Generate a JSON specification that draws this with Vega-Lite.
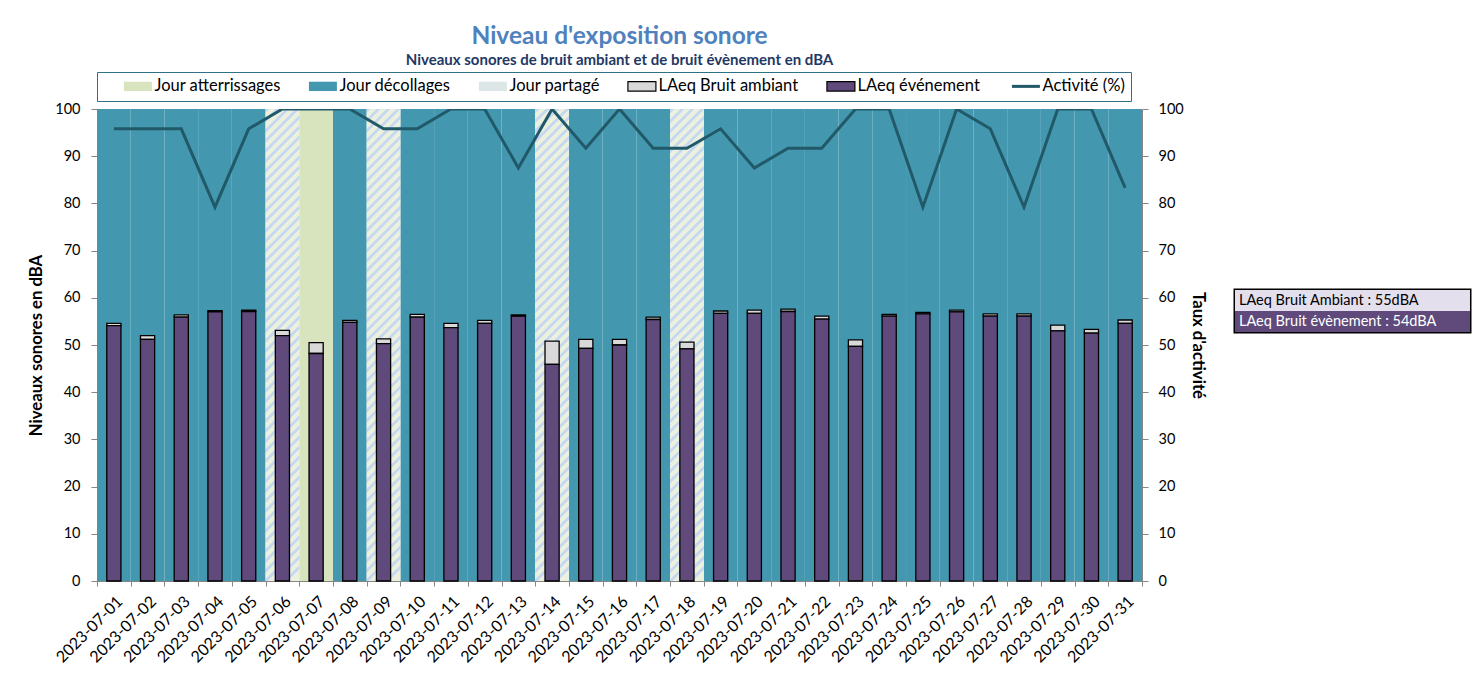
{
  "$schema": "https://vega.github.io/schema/vega-lite/v6.json",
  "width": 1045,
  "height": 472,
  "autosize": {"type": "none"},
  "padding": {"left": 97, "top": 109, "right": 339, "bottom": 96},
  "background": "white",
  "title": {
    "text": "Niveau d'exposition sonore",
    "subtitle": "Niveaux sonores de bruit ambiant et de bruit évènement en dBA",
    "anchor": "middle",
    "frame": "group",
    "font": "Lato",
    "fontSize": 24.5,
    "fontWeight": "bold",
    "color": "#4F81BD",
    "subtitleFont": "Lato",
    "subtitleFontSize": 15,
    "subtitleFontWeight": "bold",
    "subtitleColor": "#1F3864",
    "subtitlePadding": 3,
    "offset": 3
  },
  "config": {
    "font": "Lato",
    "view": {"stroke": null},
    "axis": {
      "grid": false,
      "labelFont": "Lato",
      "titleFont": "Lato",
      "domainColor": "#868686",
      "tickColor": "#868686",
      "tickSize": 6,
      "labelColor": "black",
      "titleColor": "black",
      "labelFontSize": 14.5,
      "titleFontSize": 16.7,
      "titleFontWeight": "bold"
    }
  },
  "data": {
    "values": [
      {"date": "2023-07-01", "jour": "Jour décollages", "activite": 95.8, "ambiant": 54.6, "evenement": 54.1},
      {"date": "2023-07-02", "jour": "Jour décollages", "activite": 95.8, "ambiant": 52.0, "evenement": 51.2},
      {"date": "2023-07-03", "jour": "Jour décollages", "activite": 95.8, "ambiant": 56.4, "evenement": 55.9},
      {"date": "2023-07-04", "jour": "Jour décollages", "activite": 79.2, "ambiant": 57.3, "evenement": 57.0},
      {"date": "2023-07-05", "jour": "Jour décollages", "activite": 95.8, "ambiant": 57.4, "evenement": 57.1},
      {"date": "2023-07-06", "jour": "Jour partagé", "activite": 100, "ambiant": 53.1, "evenement": 52.0},
      {"date": "2023-07-07", "jour": "Jour atterrissages", "activite": 100, "ambiant": 50.5, "evenement": 48.2},
      {"date": "2023-07-08", "jour": "Jour décollages", "activite": 100, "ambiant": 55.2, "evenement": 54.8},
      {"date": "2023-07-09", "jour": "Jour partagé", "activite": 95.8, "ambiant": 51.3, "evenement": 50.3},
      {"date": "2023-07-10", "jour": "Jour décollages", "activite": 95.8, "ambiant": 56.5, "evenement": 55.9},
      {"date": "2023-07-11", "jour": "Jour décollages", "activite": 100, "ambiant": 54.6, "evenement": 53.7},
      {"date": "2023-07-12", "jour": "Jour décollages", "activite": 100, "ambiant": 55.2, "evenement": 54.6},
      {"date": "2023-07-13", "jour": "Jour décollages", "activite": 87.5, "ambiant": 56.4, "evenement": 56.1},
      {"date": "2023-07-14", "jour": "Jour partagé", "activite": 100, "ambiant": 50.8, "evenement": 45.9},
      {"date": "2023-07-15", "jour": "Jour décollages", "activite": 91.7, "ambiant": 51.2, "evenement": 49.3},
      {"date": "2023-07-16", "jour": "Jour décollages", "activite": 100, "ambiant": 51.2, "evenement": 50.0},
      {"date": "2023-07-17", "jour": "Jour décollages", "activite": 91.7, "ambiant": 55.9, "evenement": 55.4},
      {"date": "2023-07-18", "jour": "Jour partagé", "activite": 91.7, "ambiant": 50.6, "evenement": 49.2},
      {"date": "2023-07-19", "jour": "Jour décollages", "activite": 95.8, "ambiant": 57.2, "evenement": 56.7},
      {"date": "2023-07-20", "jour": "Jour décollages", "activite": 87.5, "ambiant": 57.4, "evenement": 56.7},
      {"date": "2023-07-21", "jour": "Jour décollages", "activite": 91.7, "ambiant": 57.6, "evenement": 57.1},
      {"date": "2023-07-22", "jour": "Jour décollages", "activite": 91.7, "ambiant": 56.1, "evenement": 55.5},
      {"date": "2023-07-23", "jour": "Jour décollages", "activite": 100, "ambiant": 51.1, "evenement": 49.7},
      {"date": "2023-07-24", "jour": "Jour décollages", "activite": 100, "ambiant": 56.5, "evenement": 56.1},
      {"date": "2023-07-25", "jour": "Jour décollages", "activite": 79.2, "ambiant": 56.9, "evenement": 56.6},
      {"date": "2023-07-26", "jour": "Jour décollages", "activite": 100, "ambiant": 57.4, "evenement": 57.0},
      {"date": "2023-07-27", "jour": "Jour décollages", "activite": 95.8, "ambiant": 56.6, "evenement": 56.1},
      {"date": "2023-07-28", "jour": "Jour décollages", "activite": 79.2, "ambiant": 56.6, "evenement": 56.1},
      {"date": "2023-07-29", "jour": "Jour décollages", "activite": 100, "ambiant": 54.2, "evenement": 53.0},
      {"date": "2023-07-30", "jour": "Jour décollages", "activite": 100, "ambiant": 53.3, "evenement": 52.5},
      {"date": "2023-07-31", "jour": "Jour décollages", "activite": 83.3, "ambiant": 55.3, "evenement": 54.6}
    ]
  },
  "layer": [
    {
      "encoding": {
        "x": {
          "field": "date",
          "type": "ordinal",
          "scale": {"paddingInner": 0, "paddingOuter": 0},
          "axis": {"title": null, "labelAngle": -45, "tickBand": "extent", "labelFontSize": 16, "labelPadding": 7, "tickSize": 5}
        }
      },
      "layer": [
        {
          "transform": [{"filter": "datum.jour === 'Jour décollages'"}],
          "mark": {"type": "bar", "fill": "#4398B0", "stroke": null},
          "encoding": {
            "y": {"datum": 100, "type": "quantitative", "scale": {"domain": [0, 100], "nice": false}, "axis": {"title": "Niveaux sonores en dBA"}}
          }
        },
        {
          "transform": [{"filter": "datum.jour === 'Jour atterrissages'"}],
          "mark": {"type": "bar", "fill": "#D7E4BD", "stroke": null},
          "encoding": {
            "y": {"datum": 100, "type": "quantitative", "axis": {"title": "Niveaux sonores en dBA"}}
          }
        },
        {
          "transform": [{"filter": "datum.jour === 'Jour partagé'"}],
          "mark": {
            "type": "bar",
            "stroke": null,
            "fill": {
              "gradient": "linear",
              "x1": 0, "y1": 0, "x2": 0.07527, "y2": 1.05393,
              "stops": [
                {"offset": 0, "color": "#C6D9F1"}, {"offset": 0.008, "color": "#C6D9F1"}, {"offset": 0.008, "color": "#EBF1DE"}, {"offset": 0.02, "color": "#EBF1DE"},
                {"offset": 0.02, "color": "#C6D9F1"}, {"offset": 0.028, "color": "#C6D9F1"}, {"offset": 0.028, "color": "#EBF1DE"}, {"offset": 0.04, "color": "#EBF1DE"},
                {"offset": 0.04, "color": "#C6D9F1"}, {"offset": 0.048, "color": "#C6D9F1"}, {"offset": 0.048, "color": "#EBF1DE"}, {"offset": 0.06, "color": "#EBF1DE"},
                {"offset": 0.06, "color": "#C6D9F1"}, {"offset": 0.068, "color": "#C6D9F1"}, {"offset": 0.068, "color": "#EBF1DE"}, {"offset": 0.08, "color": "#EBF1DE"},
                {"offset": 0.08, "color": "#C6D9F1"}, {"offset": 0.088, "color": "#C6D9F1"}, {"offset": 0.088, "color": "#EBF1DE"}, {"offset": 0.1, "color": "#EBF1DE"},
                {"offset": 0.1, "color": "#C6D9F1"}, {"offset": 0.108, "color": "#C6D9F1"}, {"offset": 0.108, "color": "#EBF1DE"}, {"offset": 0.12, "color": "#EBF1DE"},
                {"offset": 0.12, "color": "#C6D9F1"}, {"offset": 0.128, "color": "#C6D9F1"}, {"offset": 0.128, "color": "#EBF1DE"}, {"offset": 0.14, "color": "#EBF1DE"},
                {"offset": 0.14, "color": "#C6D9F1"}, {"offset": 0.148, "color": "#C6D9F1"}, {"offset": 0.148, "color": "#EBF1DE"}, {"offset": 0.16, "color": "#EBF1DE"},
                {"offset": 0.16, "color": "#C6D9F1"}, {"offset": 0.168, "color": "#C6D9F1"}, {"offset": 0.168, "color": "#EBF1DE"}, {"offset": 0.18, "color": "#EBF1DE"},
                {"offset": 0.18, "color": "#C6D9F1"}, {"offset": 0.188, "color": "#C6D9F1"}, {"offset": 0.188, "color": "#EBF1DE"}, {"offset": 0.2, "color": "#EBF1DE"},
                {"offset": 0.2, "color": "#C6D9F1"}, {"offset": 0.208, "color": "#C6D9F1"}, {"offset": 0.208, "color": "#EBF1DE"}, {"offset": 0.22, "color": "#EBF1DE"},
                {"offset": 0.22, "color": "#C6D9F1"}, {"offset": 0.228, "color": "#C6D9F1"}, {"offset": 0.228, "color": "#EBF1DE"}, {"offset": 0.24, "color": "#EBF1DE"},
                {"offset": 0.24, "color": "#C6D9F1"}, {"offset": 0.248, "color": "#C6D9F1"}, {"offset": 0.248, "color": "#EBF1DE"}, {"offset": 0.26, "color": "#EBF1DE"},
                {"offset": 0.26, "color": "#C6D9F1"}, {"offset": 0.268, "color": "#C6D9F1"}, {"offset": 0.268, "color": "#EBF1DE"}, {"offset": 0.28, "color": "#EBF1DE"},
                {"offset": 0.28, "color": "#C6D9F1"}, {"offset": 0.288, "color": "#C6D9F1"}, {"offset": 0.288, "color": "#EBF1DE"}, {"offset": 0.3, "color": "#EBF1DE"},
                {"offset": 0.3, "color": "#C6D9F1"}, {"offset": 0.308, "color": "#C6D9F1"}, {"offset": 0.308, "color": "#EBF1DE"}, {"offset": 0.32, "color": "#EBF1DE"},
                {"offset": 0.32, "color": "#C6D9F1"}, {"offset": 0.328, "color": "#C6D9F1"}, {"offset": 0.328, "color": "#EBF1DE"}, {"offset": 0.34, "color": "#EBF1DE"},
                {"offset": 0.34, "color": "#C6D9F1"}, {"offset": 0.348, "color": "#C6D9F1"}, {"offset": 0.348, "color": "#EBF1DE"}, {"offset": 0.36, "color": "#EBF1DE"},
                {"offset": 0.36, "color": "#C6D9F1"}, {"offset": 0.368, "color": "#C6D9F1"}, {"offset": 0.368, "color": "#EBF1DE"}, {"offset": 0.38, "color": "#EBF1DE"},
                {"offset": 0.38, "color": "#C6D9F1"}, {"offset": 0.388, "color": "#C6D9F1"}, {"offset": 0.388, "color": "#EBF1DE"}, {"offset": 0.4, "color": "#EBF1DE"},
                {"offset": 0.4, "color": "#C6D9F1"}, {"offset": 0.408, "color": "#C6D9F1"}, {"offset": 0.408, "color": "#EBF1DE"}, {"offset": 0.42, "color": "#EBF1DE"},
                {"offset": 0.42, "color": "#C6D9F1"}, {"offset": 0.428, "color": "#C6D9F1"}, {"offset": 0.428, "color": "#EBF1DE"}, {"offset": 0.44, "color": "#EBF1DE"},
                {"offset": 0.44, "color": "#C6D9F1"}, {"offset": 0.448, "color": "#C6D9F1"}, {"offset": 0.448, "color": "#EBF1DE"}, {"offset": 0.46, "color": "#EBF1DE"},
                {"offset": 0.46, "color": "#C6D9F1"}, {"offset": 0.468, "color": "#C6D9F1"}, {"offset": 0.468, "color": "#EBF1DE"}, {"offset": 0.48, "color": "#EBF1DE"},
                {"offset": 0.48, "color": "#C6D9F1"}, {"offset": 0.488, "color": "#C6D9F1"}, {"offset": 0.488, "color": "#EBF1DE"}, {"offset": 0.5, "color": "#EBF1DE"},
                {"offset": 0.5, "color": "#C6D9F1"}, {"offset": 0.508, "color": "#C6D9F1"}, {"offset": 0.508, "color": "#EBF1DE"}, {"offset": 0.52, "color": "#EBF1DE"},
                {"offset": 0.52, "color": "#C6D9F1"}, {"offset": 0.528, "color": "#C6D9F1"}, {"offset": 0.528, "color": "#EBF1DE"}, {"offset": 0.54, "color": "#EBF1DE"},
                {"offset": 0.54, "color": "#C6D9F1"}, {"offset": 0.548, "color": "#C6D9F1"}, {"offset": 0.548, "color": "#EBF1DE"}, {"offset": 0.56, "color": "#EBF1DE"},
                {"offset": 0.56, "color": "#C6D9F1"}, {"offset": 0.568, "color": "#C6D9F1"}, {"offset": 0.568, "color": "#EBF1DE"}, {"offset": 0.58, "color": "#EBF1DE"},
                {"offset": 0.58, "color": "#C6D9F1"}, {"offset": 0.588, "color": "#C6D9F1"}, {"offset": 0.588, "color": "#EBF1DE"}, {"offset": 0.6, "color": "#EBF1DE"},
                {"offset": 0.6, "color": "#C6D9F1"}, {"offset": 0.608, "color": "#C6D9F1"}, {"offset": 0.608, "color": "#EBF1DE"}, {"offset": 0.62, "color": "#EBF1DE"},
                {"offset": 0.62, "color": "#C6D9F1"}, {"offset": 0.628, "color": "#C6D9F1"}, {"offset": 0.628, "color": "#EBF1DE"}, {"offset": 0.64, "color": "#EBF1DE"},
                {"offset": 0.64, "color": "#C6D9F1"}, {"offset": 0.648, "color": "#C6D9F1"}, {"offset": 0.648, "color": "#EBF1DE"}, {"offset": 0.66, "color": "#EBF1DE"},
                {"offset": 0.66, "color": "#C6D9F1"}, {"offset": 0.668, "color": "#C6D9F1"}, {"offset": 0.668, "color": "#EBF1DE"}, {"offset": 0.68, "color": "#EBF1DE"},
                {"offset": 0.68, "color": "#C6D9F1"}, {"offset": 0.688, "color": "#C6D9F1"}, {"offset": 0.688, "color": "#EBF1DE"}, {"offset": 0.7, "color": "#EBF1DE"},
                {"offset": 0.7, "color": "#C6D9F1"}, {"offset": 0.708, "color": "#C6D9F1"}, {"offset": 0.708, "color": "#EBF1DE"}, {"offset": 0.72, "color": "#EBF1DE"},
                {"offset": 0.72, "color": "#C6D9F1"}, {"offset": 0.728, "color": "#C6D9F1"}, {"offset": 0.728, "color": "#EBF1DE"}, {"offset": 0.74, "color": "#EBF1DE"},
                {"offset": 0.74, "color": "#C6D9F1"}, {"offset": 0.748, "color": "#C6D9F1"}, {"offset": 0.748, "color": "#EBF1DE"}, {"offset": 0.76, "color": "#EBF1DE"},
                {"offset": 0.76, "color": "#C6D9F1"}, {"offset": 0.768, "color": "#C6D9F1"}, {"offset": 0.768, "color": "#EBF1DE"}, {"offset": 0.78, "color": "#EBF1DE"},
                {"offset": 0.78, "color": "#C6D9F1"}, {"offset": 0.788, "color": "#C6D9F1"}, {"offset": 0.788, "color": "#EBF1DE"}, {"offset": 0.8, "color": "#EBF1DE"},
                {"offset": 0.8, "color": "#C6D9F1"}, {"offset": 0.808, "color": "#C6D9F1"}, {"offset": 0.808, "color": "#EBF1DE"}, {"offset": 0.82, "color": "#EBF1DE"},
                {"offset": 0.82, "color": "#C6D9F1"}, {"offset": 0.828, "color": "#C6D9F1"}, {"offset": 0.828, "color": "#EBF1DE"}, {"offset": 0.84, "color": "#EBF1DE"},
                {"offset": 0.84, "color": "#C6D9F1"}, {"offset": 0.848, "color": "#C6D9F1"}, {"offset": 0.848, "color": "#EBF1DE"}, {"offset": 0.86, "color": "#EBF1DE"},
                {"offset": 0.86, "color": "#C6D9F1"}, {"offset": 0.868, "color": "#C6D9F1"}, {"offset": 0.868, "color": "#EBF1DE"}, {"offset": 0.88, "color": "#EBF1DE"},
                {"offset": 0.88, "color": "#C6D9F1"}, {"offset": 0.888, "color": "#C6D9F1"}, {"offset": 0.888, "color": "#EBF1DE"}, {"offset": 0.9, "color": "#EBF1DE"},
                {"offset": 0.9, "color": "#C6D9F1"}, {"offset": 0.908, "color": "#C6D9F1"}, {"offset": 0.908, "color": "#EBF1DE"}, {"offset": 0.92, "color": "#EBF1DE"},
                {"offset": 0.92, "color": "#C6D9F1"}, {"offset": 0.928, "color": "#C6D9F1"}, {"offset": 0.928, "color": "#EBF1DE"}, {"offset": 0.94, "color": "#EBF1DE"},
                {"offset": 0.94, "color": "#C6D9F1"}, {"offset": 0.948, "color": "#C6D9F1"}, {"offset": 0.948, "color": "#EBF1DE"}, {"offset": 0.96, "color": "#EBF1DE"},
                {"offset": 0.96, "color": "#C6D9F1"}, {"offset": 0.968, "color": "#C6D9F1"}, {"offset": 0.968, "color": "#EBF1DE"}, {"offset": 0.98, "color": "#EBF1DE"},
                {"offset": 0.98, "color": "#C6D9F1"}, {"offset": 0.988, "color": "#C6D9F1"}, {"offset": 0.988, "color": "#EBF1DE"}, {"offset": 1, "color": "#EBF1DE"}
              ]
            }
          },
          "encoding": {
            "y": {"datum": 100, "type": "quantitative", "axis": {"title": "Niveaux sonores en dBA"}}
          }
        },
        {
          "mark": {"type": "bar", "fill": "#D9D9D9", "stroke": "black", "strokeWidth": 1.3, "width": {"band": 0.42}},
          "encoding": {
            "y": {"field": "ambiant", "type": "quantitative", "axis": {"title": "Niveaux sonores en dBA"}},
            "y2": {"field": "evenement"}
          }
        },
        {
          "mark": {"type": "bar", "fill": "#604A7B", "stroke": "black", "strokeWidth": 1.3, "width": {"band": 0.42}},
          "encoding": {
            "y": {
              "field": "evenement",
              "type": "quantitative",
              "axis": {
                "title": "Niveaux sonores en dBA",
                "orient": "left",
                "values": [0, 10, 20, 30, 40, 50, 60, 70, 80, 90, 100],
                "labelPadding": 11,
                "titlePadding": 9
              }
            }
          }
        }
      ]
    },
    {
      "mark": {"type": "line", "stroke": "#215968", "strokeWidth": 3, "clip": true},
      "encoding": {
        "x": {"field": "date", "type": "ordinal"},
        "y": {
          "field": "activite",
          "type": "quantitative",
          "scale": {"domain": [0, 100], "nice": false},
          "axis": {
            "title": "Taux d'activité",
            "orient": "right",
            "values": [0, 10, 20, 30, 40, 50, 60, 70, 80, 90, 100],
            "labelPadding": 10,
            "titlePadding": 5
          }
        }
      }
    },
    {
      "data": {
        "values": [
          {"serie": "Jour atterrissages"},
          {"serie": "Jour décollages"},
          {"serie": "Jour partagé"},
          {"serie": "LAeq Bruit ambiant"},
          {"serie": "LAeq événement"},
          {"serie": "Activité (%)"}
        ]
      },
      "mark": {"type": "point", "opacity": 0, "filled": true},
      "encoding": {
        "color": {
          "field": "serie",
          "type": "nominal",
          "scale": {
            "domain": ["Jour atterrissages", "Jour décollages", "Jour partagé", "LAeq Bruit ambiant", "LAeq événement", "Activité (%)"],
            "range": ["#D7E4BD", "#4398B0", "#DCE6E6", "#D9D9D9", "#604A7B", "transparent"]
          },
          "legend": {
            "orient": "top",
            "direction": "horizontal",
            "title": " ",
            "titleOrient": "left",
            "titlePadding": 22,
            "offset": 8,
            "padding": 6,
            "strokeColor": "#31708A",
            "labelFont": "Lato",
            "labelFontSize": 16.5,
            "labelColor": "black",
            "labelOffset": 13,
            "columnPadding": 25,
            "symbolSize": 348,
            "encode": {
              "symbols": {
                "update": {
                  "size": {"value": 348},
                  "opacity": {"value": 1},
                  "fillOpacity": {"value": 1},
                  "strokeOpacity": {"value": 1},
                  "strokeWidth": {"signal": "datum.value === 'Activité (%)' ? 3 : 1.2"}
                }
              }
            }
          }
        },
        "shape": {
          "field": "serie",
          "type": "nominal",
          "scale": {
            "domain": ["Jour atterrissages", "Jour décollages", "Jour partagé", "LAeq Bruit ambiant", "LAeq événement", "Activité (%)"],
            "range": ["M-1,-0.5H2V0.5H-1Z", "M-1,-0.5H2V0.5H-1Z", "M-1,-0.5H2V0.5H-1Z", "M-1,-0.5H2V0.5H-1Z", "M-1,-0.5H2V0.5H-1Z", "M-1,0H2"]
          },
          "legend": {"title": " "}
        },
        "stroke": {
          "field": "serie",
          "type": "nominal",
          "scale": {
            "domain": ["Jour atterrissages", "Jour décollages", "Jour partagé", "LAeq Bruit ambiant", "LAeq événement", "Activité (%)"],
            "range": ["transparent", "transparent", "transparent", "black", "black", "#215968"]
          },
          "legend": {"title": " "}
        }
      }
    },
    {
      "data": {
        "values": [
          {"texte": "LAeq Bruit Ambiant : 55dBA"},
          {"texte": "LAeq Bruit évènement : 54dBA"}
        ]
      },
      "mark": {"type": "point", "opacity": 0, "filled": true},
      "encoding": {
        "fill": {
          "field": "texte",
          "type": "nominal",
          "scale": {
            "domain": ["LAeq Bruit Ambiant : 55dBA", "LAeq Bruit évènement : 54dBA"],
            "range": ["#E4DFEC", "#604A7B"]
          },
          "legend": {
            "orient": "none",
            "legendX": 1138,
            "legendY": 181,
            "direction": "vertical",
            "title": null,
            "padding": 0,
            "rowPadding": 0,
            "strokeColor": "black",
            "labelFont": "Lato",
            "labelFontSize": 14.5,
            "labelLimit": 300,
            "labelOffset": -17,
            "symbolSize": 441,
            "encode": {
              "legend": {"update": {"strokeWidth": {"value": 3}}},
              "symbols": {
                "update": {
                  "shape": {"value": "M-1,-1H21.38V1H-1Z"},
                  "size": {"value": 441},
                  "opacity": {"value": 1},
                  "fillOpacity": {"value": 1},
                  "strokeWidth": {"value": 0}
                }
              },
              "labels": {
                "update": {
                  "fill": [
                    {"test": "datum.value === 'LAeq Bruit évènement : 54dBA'", "value": "white"},
                    {"value": "black"}
                  ]
                }
              }
            }
          }
        }
      }
    }
  ],
  "resolve": {"scale": {"y": "independent"}}
}
